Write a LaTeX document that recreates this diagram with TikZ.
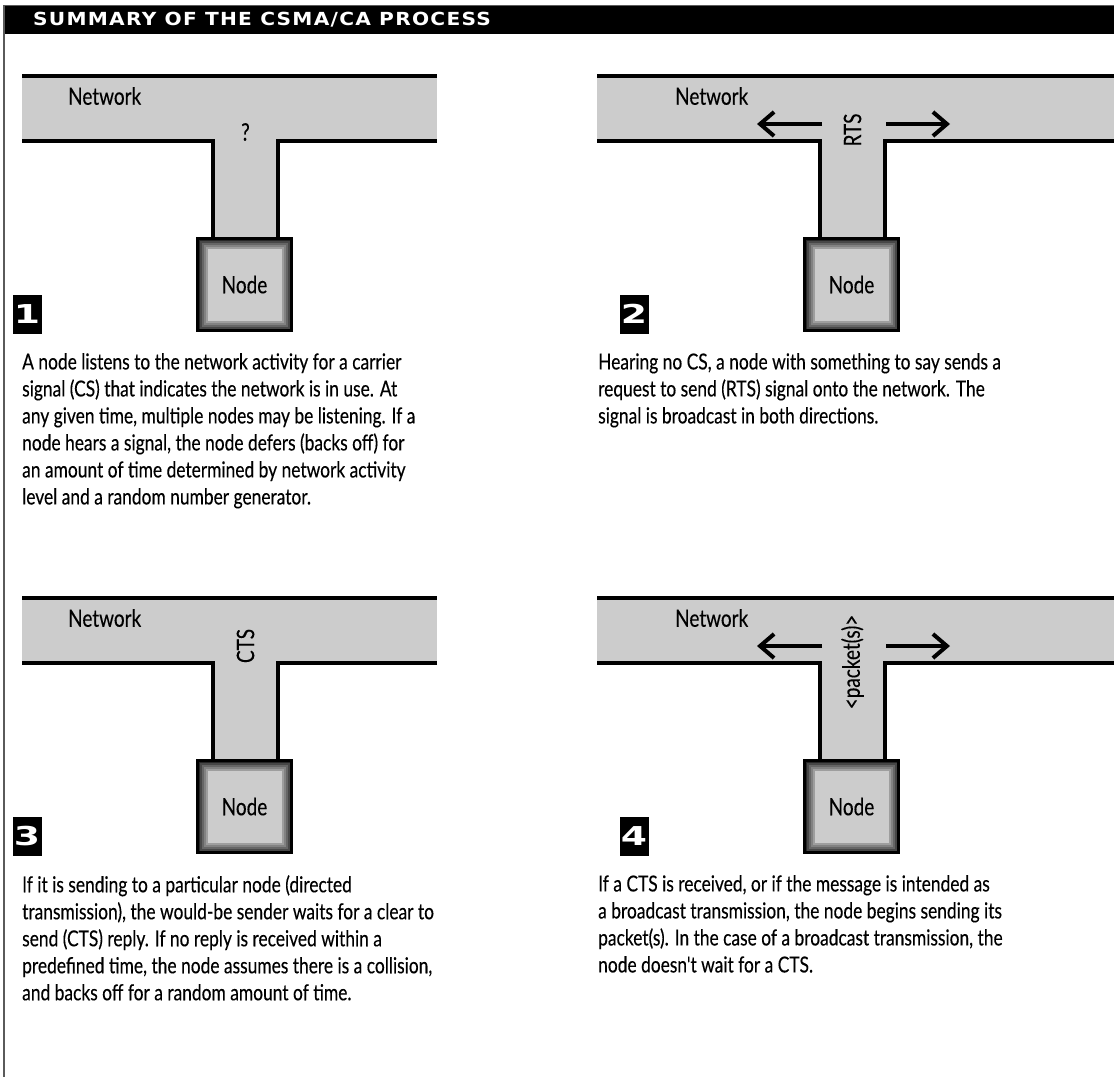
\documentclass[tikz,border=0pt]{standalone}
\usepackage{fontspec}
\setmainfont{Lato}
\newfontfamily\capfont{Lato}[FakeStretch=0.79,FakeBold=0.3]
\newfontfamily\headfont{DejaVu Sans}[FakeStretch=1.12,LetterSpace=7]
\newfontfamily\numfont{DejaVu Sans}[FakeStretch=1.45]
\usetikzlibrary{arrows.meta,positioning,calc}
\definecolor{netgray}{HTML}{CCCCCC}
\definecolor{framegray}{HTML}{5A5A5A}
\tikzset{
  net/.style    ={fill=netgray, draw=none},
  wire/.style   ={line width=4pt, line join=miter},
  lbl/.style    ={font=\capfont\fontsize{24}{28}\selectfont, inner sep=0pt},
  devbox/.style ={draw=black, line width=3.5pt, fill=netgray,
                  minimum width=94pt, minimum height=92pt, inner sep=0pt,
                  font=\capfont\fontsize{24}{28}\selectfont,
                  path picture={
                    \foreach \k/\g in {0/85,2/72,4/60,6/49,8/38}
                      \fill[black!\g]
                        ([shift={(\k pt,-\k pt)}]path picture bounding box.north west)
                        rectangle ([shift={(-\k pt,\k pt)}]path picture bounding box.south east);
                    \fill[netgray]
                      ([shift={(10pt,-10pt)}]path picture bounding box.north west)
                      rectangle ([shift={(-10pt,10pt)}]path picture bounding box.south east);}},
  badge/.style  ={fill=black, text=white, minimum width=29pt, minimum height=39pt,
                  inner sep=0pt, font=\numfont\bfseries\fontsize{26}{26}\selectfont},
  caption/.style={align=left, inner sep=0pt,
                  font=\capfont\fontsize{22}{27}\selectfont},
  sig/.style    ={line width=4pt,
                  -{Straight Barb[length=14pt,width=24pt,line width=4pt]}}
}

\begin{document}
\begin{tikzpicture}[x=1pt,y=-1pt]
\useasboundingbox (0,0) rectangle (1114,1077);

% frame and title bar
\fill[black] (4,5) rectangle (1114,34);
\draw[framegray, line width=1pt] (4,5) -- (1114,5);
\draw[framegray, line width=2pt] (4,5) -- (4,1077);
\node[anchor=west, text=white, inner sep=0pt,
      font=\headfont\bfseries\fontsize{18}{18}\selectfont] (title) at (33,20)
  {SUMMARY OF THE CSMA/CA PROCESS};

% the four panels
\foreach \p/\dx/\dy/\nl/\nr in {1/0/0/22/437, 2/607/0/-10/507,
                                3/0/522/22/437, 4/607/522/-10/507}{
\begin{scope}[shift={(\dx,\dy)}]
  \fill[net] (\nl,76) rectangle (\nr,141);
  \fill[net] (213,139) rectangle (278,239);
  \draw[wire] (\nl,76) -- (\nr,76);
  \draw[wire] (\nl,141) -- (213,141) -- (213,237);
  \draw[wire] (\nr,141) -- (278,141) -- (278,237);
  \node[lbl, anchor=west] (net\p) at (68,96) {Network};
  \node[devbox] (dev\p) at (244.5,284.5) {Node};
  \node[badge] (num\p) at (27,314) {\p};
  \coordinate (sl\p) at (215,124);
  \coordinate (el\p) at (150,124);
  \coordinate (sr\p) at (279,124);
  \coordinate (er\p) at (343,124);
\end{scope}}

% what travels on the wire
\node[lbl] (ask) at (245.5,132) {?};
\node[lbl, rotate=90] (rts) at (852.5,130) {RTS};
\node[lbl, rotate=90] (cts) at (245.5,646) {CTS};
\node[lbl, rotate=90] (pkt) at (852.5,662) {<packet(s)>};
\foreach \p in {2,4}{
  \draw[sig] (sl\p) -- (el\p);
  \draw[sig] (sr\p) -- (er\p);
}

% captions
\node[caption, anchor=north west] (txt1) at (22,353)
  {A node listens to the network activity for a carrier\\
   signal (CS) that indicates the network is in use. At\\
   any given time, multiple nodes may be listening. If a\\
   node hears a signal, the node defers (backs off) for\\
   an amount of time determined by network activity\\
   level and a random number generator.};
\node[caption, anchor=north west] (txt2) at (598,353)
  {Hearing no CS, a node with something to say sends a\\
   request to send (RTS) signal onto the network. The\\
   signal is broadcast in both directions.};
\node[caption, anchor=north west] (txt3) at (22,875)
  {If it is sending to a particular node (directed\\
   transmission), the would-be sender waits for a clear to\\
   send (CTS) reply. If no reply is received within a\\
   predefined time, the node assumes there is a collision,\\
   and backs off for a random amount of time.};
\node[caption, anchor=north west] (txt4) at (598,875)
  {If a CTS is received, or if the message is intended as\\
   a broadcast transmission, the node begins sending its\\
   packet(s). In the case of a broadcast transmission, the\\
   node doesn't wait for a CTS.};
\end{tikzpicture}
\end{document}
